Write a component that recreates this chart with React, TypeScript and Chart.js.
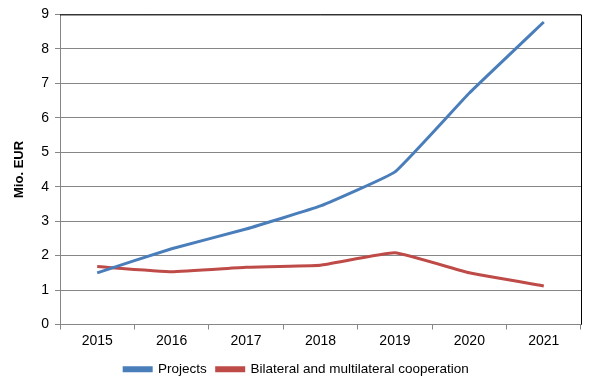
import React, { useEffect, useRef } from "react";
import { Chart, registerables } from "chart.js";

Chart.register(...registerables);

const years = ["2015", "2016", "2017", "2018", "2019", "2020", "2021"];
const projects = [1.5, 2.2, 2.77, 3.44, 4.43, 6.72, 8.78];
const bilateral = [1.68, 1.53, 1.66, 1.72, 2.08, 1.5, 1.12];
const yTicks = [0, 1, 2, 3, 4, 5, 6, 7, 8, 9];

const FONT = "'Liberation Sans', Arial, sans-serif";

const borderPlugin = {
  id: "frameTR",
  afterDatasetsDraw(chart: any) {
    const { ctx, chartArea } = chart;
    ctx.save();
    ctx.strokeStyle = "#000";
    ctx.lineWidth = 1;
    ctx.beginPath();
    ctx.moveTo(chartArea.left, chartArea.top + 0.5);
    ctx.lineTo(chartArea.right + 0.5, chartArea.top + 0.5);
    ctx.lineTo(chartArea.right + 0.5, chartArea.bottom);
    ctx.stroke();
    ctx.restore();
  },
};

export default function App() {
  const ref = useRef<HTMLCanvasElement>(null);
  useEffect(() => {
    if (!ref.current) return;
    const chart = new Chart(ref.current, {
      type: "line",
      data: {
        labels: years,
        datasets: [
          {
            label: "Projects",
            data: projects,
            borderColor: "#4A7EBB",
            backgroundColor: "#4A7EBB",
            borderWidth: 3,
            pointRadius: 0,
            tension: 0.1,
          },
          {
            label: "Bilateral and multilateral cooperation",
            data: bilateral,
            borderColor: "#BE4B48",
            backgroundColor: "#BE4B48",
            borderWidth: 3,
            pointRadius: 0,
            tension: 0.1,
          },
        ],
      },
      options: {
        animation: false,
        responsive: true,
        maintainAspectRatio: false,
        layout: { padding: { left: 12, right: 14, top: 14, bottom: 4 } },
        plugins: {
          legend: {
            position: "bottom",
            labels: {
              boxWidth: 27,
              boxHeight: 3,
              padding: 10,
              color: "#000",
              font: { family: FONT, size: 13.5 },
            },
          },
          tooltip: { enabled: false },
        },
        scales: {
          x: {
            offset: true,
            grid: {
              display: true,
              drawOnChartArea: false,
              drawTicks: true,
              tickLength: 5,
              tickColor: "#868686",
              offset: true,
            },
            border: { color: "#868686", width: 1 },
            ticks: { color: "#000", font: { family: FONT, size: 14 }, padding: 3 },
            afterFit: (s: any) => {
              s.height = 28;
            },
          },
          y: {
            min: 0,
            max: 9,
            afterBuildTicks: (s: any) => {
              s.ticks = yTicks.map((v) => ({ value: v }));
            },
            grid: { color: "#868686", lineWidth: 1, drawTicks: true, tickLength: 5, tickColor: "#868686" },
            border: { color: "#868686", width: 1 },
            ticks: { color: "#000", font: { family: FONT, size: 14 }, padding: 6 },
            title: {
              display: true,
              text: "Mio. EUR",
              color: "#000",
              font: { family: FONT, size: 13, weight: "bold" },
              padding: { top: 0, bottom: 6 },
            },
            afterFit: (s: any) => {
              s.width = 48;
            },
          },
        },
      },
      plugins: [borderPlugin],
    } as any);
    return () => chart.destroy();
  }, []);
  return (
    <div style={{ position: "fixed", left: 0, top: 0, width: 595, height: 390, background: "#fff" }}>
      <canvas ref={ref} />
    </div>
  );
}
